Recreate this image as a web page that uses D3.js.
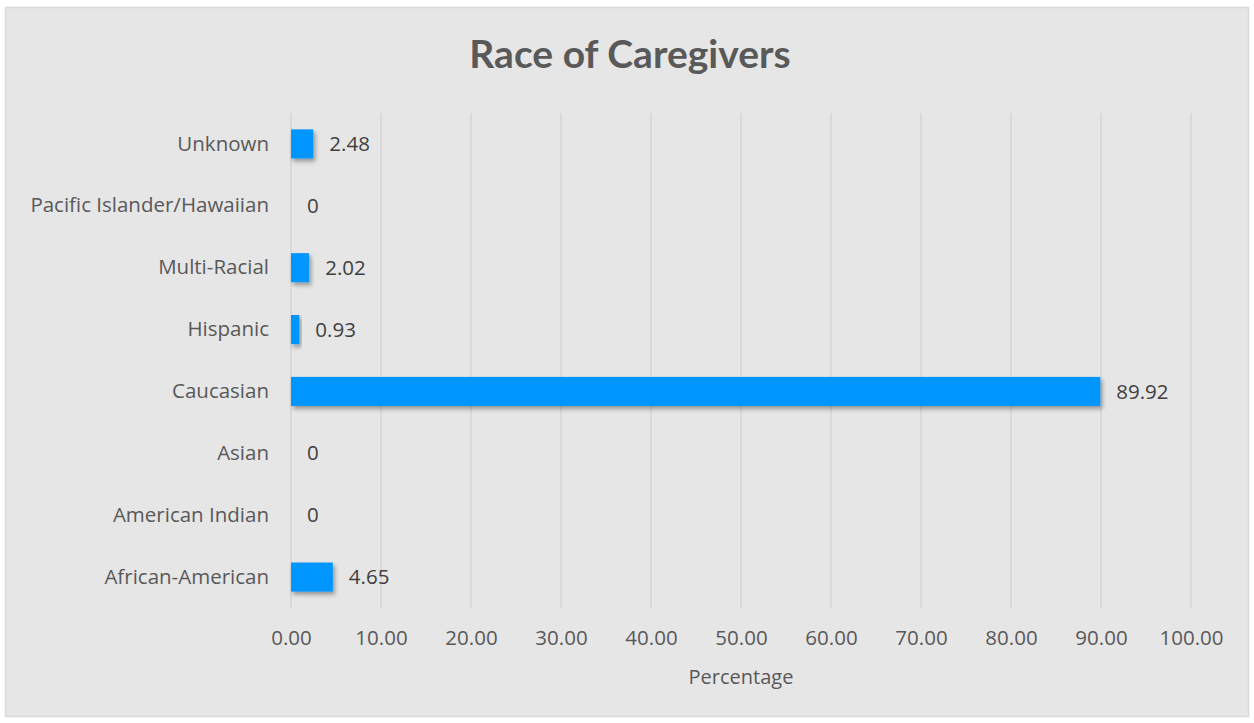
<!DOCTYPE html>
<html>
<head>
<meta charset="utf-8">
<script src="https://cdn.jsdelivr.net/npm/d3@7"></script>
<style>
  body { margin: 0; background: #ffffff; }
  text { font-family: "Open Sans", sans-serif; }
</style>
</head>
<body>
<div id="chart-area"></div>
<script>
// data
let categories = ["Unknown", "Pacific Islander/Hawaiian", "Multi-Racial", "Hispanic",
    "Caucasian", "Asian", "American Indian", "African-American"];
let values = [2.48, 0, 2.02, 0.93, 89.92, 0, 0, 4.65];
let valueLabels = ["2.48", "0", "2.02", "0.93", "89.92", "0", "0", "4.65"];
let xTicks = [0, 10, 20, 30, 40, 50, 60, 70, 80, 90, 100];

let data = categories.map((c, i) => ({cat: c, value: values[i], label: valueLabels[i]}));

let W = 1254, H = 723;
let margin = {top: 113, right: 63, bottom: 115, left: 291};
let width = W - margin.left - margin.right,
    height = H - margin.top - margin.bottom;

let root = d3.select("#chart-area").append("svg")
    .attr("width", W)
    .attr("height", H);

// shadow for bars
let defs = root.append("defs");
defs.append("filter")
    .attr("id", "shadow")
    .attr("x", "-20%").attr("y", "-30%")
    .attr("width", "150%").attr("height", "180%")
  .append("feDropShadow")
    .attr("dx", 2).attr("dy", 3)
    .attr("stdDeviation", 2.2)
    .attr("flood-color", "#000")
    .attr("flood-opacity", 0.35);

// chart background + border
root.append("rect")
    .attr("x", 5.5).attr("y", 7.5)
    .attr("width", 1243).attr("height", 709)
    .attr("fill", "#e6e6e6")
    .attr("stroke", "#d9d9d9")
    .attr("stroke-width", 1.5);

// title
root.append("text")
    .attr("x", 630).attr("y", 68)
    .attr("text-anchor", "middle")
    .style("font-family", "Lato, sans-serif")
    .style("font-weight", "bold")
    .style("font-size", "39px")
    .attr("fill", "#595959")
    .text("Race of Caregivers");

let svg = root.append("g")
    .attr("transform", "translate(" + margin.left + "," + margin.top + ")");

// scales
let x = d3.scaleLinear().domain([0, 100]).range([0, width]);
let y = d3.scaleBand().domain(categories).range([0, height]).paddingInner(0.53).paddingOuter(0.265);

// gridlines
svg.append("g")
    .selectAll("line")
    .data(xTicks)
    .enter().append("line")
    .attr("x1", d => x(d)).attr("x2", d => x(d))
    .attr("y1", 0).attr("y2", height)
    .attr("stroke", "#d4d4d4")
    .attr("stroke-width", 1.5);

// x axis
let xAxis = d3.axisBottom(x)
    .tickValues(xTicks)
    .tickSize(0)
    .tickPadding(22)
    .tickFormat(d3.format(".2f"));

let xg = svg.append("g")
    .attr("transform", "translate(0," + height + ")")
    .call(xAxis);
xg.select(".domain").remove();
xg.selectAll("text")
    .style("font-size", "20.5px")
    .attr("fill", "#595959");

// y axis
let yAxis = d3.axisLeft(y).tickSize(0).tickPadding(22);
let yg = svg.append("g").call(yAxis);
yg.select(".domain").remove();
yg.selectAll("text")
    .style("font-size", "20.5px")
    .attr("fill", "#595959");

// bars
svg.selectAll(".bar")
    .data(data)
    .enter().append("rect")
    .attr("class", "bar")
    .attr("x", x(0))
    .attr("y", d => y(d.cat))
    .attr("width", d => x(d.value) - x(0))
    .attr("height", y.bandwidth())
    .attr("fill", "#0096ff")
    .attr("filter", d => d.value > 0 ? "url(#shadow)" : null);

// value labels
svg.selectAll(".val")
    .data(data)
    .enter().append("text")
    .attr("class", "val")
    .attr("x", d => x(d.value) + 16)
    .attr("y", d => y(d.cat) + y.bandwidth() / 2)
    .attr("dy", "0.35em")
    .style("font-size", "20.5px")
    .attr("fill", "#404040")
    .text(d => d.label);

// axis title
svg.append("text")
    .attr("x", width / 2)
    .attr("y", height + 69)
    .attr("dy", "0.35em")
    .attr("text-anchor", "middle")
    .style("font-size", "20px")
    .attr("fill", "#595959")
    .text("Percentage");
</script>
</body>
</html>
